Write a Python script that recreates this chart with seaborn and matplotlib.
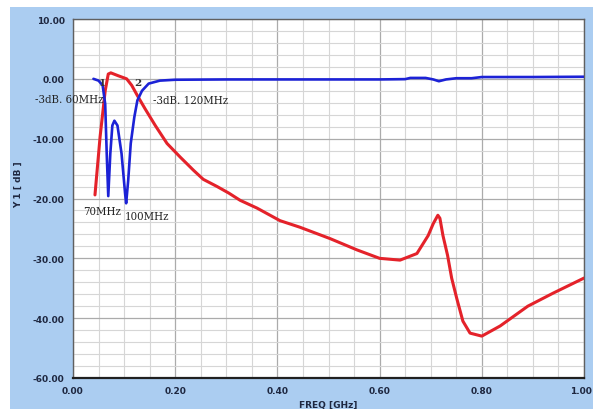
import numpy as np
import pandas as pd
import seaborn as sns
import matplotlib
matplotlib.use("Agg")
import matplotlib.pyplot as plt
from matplotlib.patches import Rectangle
from matplotlib.ticker import MultipleLocator, FixedLocator
from matplotlib.transforms import ScaledTranslation
from matplotlib import font_manager

# ---- data ----
blue_x = [0.040, 0.050, 0.058, 0.063, 0.066, 0.069, 0.073, 0.077, 0.081, 0.087, 0.095,
          0.102, 0.104, 0.108, 0.113, 0.120, 0.126, 0.135, 0.148, 0.170, 0.200, 0.300,
          0.400, 0.500, 0.600, 0.650, 0.660, 0.690, 0.705, 0.716, 0.730, 0.750, 0.780,
          0.800, 0.900, 1.000]
blue_y = [0.0, -0.3, -1.1, -4.2, -12.5, -19.6, -12.5, -7.8, -7.0, -7.8, -12.5,
          -19.2, -20.8, -17.0, -10.8, -6.4, -3.6, -2.0, -0.8, -0.3, -0.15, -0.1,
          -0.1, -0.1, -0.1, -0.05, 0.15, 0.15, -0.1, -0.4, -0.1, 0.1, 0.1,
          0.3, 0.3, 0.35]

red_x = [0.043, 0.053, 0.063, 0.069, 0.074, 0.089, 0.105, 0.115, 0.126, 0.141, 0.161,
         0.184, 0.210, 0.236, 0.255, 0.282, 0.305, 0.327, 0.360, 0.405, 0.444, 0.503,
         0.556, 0.600, 0.640, 0.673, 0.695, 0.705, 0.714, 0.718, 0.724, 0.733, 0.741,
         0.751, 0.763, 0.777, 0.800, 0.836, 0.890, 0.940, 1.000]
red_y = [-19.4, -9.7, -2.0, 0.8, 1.0, 0.5, 0.0, -1.1, -2.8, -5.0, -7.8,
         -10.8, -13.1, -15.3, -16.8, -18.0, -19.1, -20.3, -21.6, -23.7, -24.8, -26.7,
         -28.6, -30.0, -30.3, -29.2, -26.2, -24.2, -22.8, -23.3, -26.2, -29.5, -33.3,
         -36.7, -40.5, -42.5, -43.0, -41.3, -38.0, -35.8, -33.3]

x_ticks = [0.0, 0.2, 0.4, 0.6, 0.8, 1.0]
x_tick_labels = ["0.00", "0.20", "0.40", "0.60", "0.80", "1.00"]
y_ticks = [10, 0, -10, -20, -30, -40, -50]
y_tick_labels = ["10.00", "0.00", "-10.00", "-20.00", "-30.00", "-40.00", "-60.00"]

annotations = [
    ("-3dB. 60MHz", -0.074, -3.3),
    ("-3dB. 120MHz", 0.157, -3.5),
    ("70MHz", 0.020, -22.1),
    ("100MHz", 0.102, -23.0),
]
markers = [("1", 0.058, -1.3), ("2", 0.126, -1.3)]

# ---- figure ----
sns.set_style("white")
plt.rcParams['font.family'] = ['DejaVu Sans']

# condensed serif face if available
serif_family = "Liberation Serif"
serif_stretch = "normal"
for f in font_manager.fontManager.ttflist:
    if f.name == "DejaVu Serif" and f.stretch == "condensed":
        serif_family, serif_stretch = "DejaVu Serif", "condensed"
        break

W, H = 593, 410
fig = plt.figure(figsize=(W / 100, H / 100), dpi=100)
fig.patch.set_facecolor("white")
fig.add_artist(Rectangle((10 / W, 0), 1 - 10 / W, 1 - 8 / H, transform=fig.transFigure,
                         facecolor="#abcdf1", edgecolor="none", zorder=0))

ax = fig.add_axes([73 / W, 1 - 379 / H, (584 - 73) / W, (379 - 20) / H])
ax.set_facecolor("white")

df_b = pd.DataFrame({"x": blue_x, "y": blue_y})
df_r = pd.DataFrame({"x": red_x, "y": red_y})
sns.lineplot(data=df_b, x="x", y="y", ax=ax, color="#1c22d6", linewidth=1.9, sort=False, zorder=4)
sns.lineplot(data=df_r, x="x", y="y", ax=ax, color="#e4222a", linewidth=2.2, sort=False, zorder=3)

ax.set_xlim(0, 1.0)
ax.set_ylim(-50, 10)

ax.xaxis.set_major_locator(FixedLocator(x_ticks))
ax.set_xticklabels(x_tick_labels)
ax.xaxis.set_minor_locator(MultipleLocator(0.05))
ax.yaxis.set_major_locator(FixedLocator(y_ticks))
ax.set_yticklabels(y_tick_labels)
ax.yaxis.set_minor_locator(MultipleLocator(2))

ax.grid(which="major", color="#ababab", linewidth=0.9, zorder=1)
ax.grid(which="minor", color="#d6d6d6", linewidth=0.8, zorder=1)
ax.set_axisbelow(True)

ax.tick_params(axis="both", which="major", direction="out", length=4, width=0.8,
               color="#333333", labelsize=6.5, labelcolor="#1e2740", pad=2)
ax.tick_params(axis="both", which="minor", direction="out", length=2, width=0.6, color="#555555")
for lab in ax.get_xticklabels() + ax.get_yticklabels():
    lab.set_fontweight("bold")
last = ax.get_xticklabels()[-1]
last.set_transform(last.get_transform() + ScaledTranslation(-3 / 100, 0, fig.dpi_scale_trans))

for side in ["top", "right", "left"]:
    ax.spines[side].set_color("#606060")
    ax.spines[side].set_linewidth(1.0)
ax.spines["bottom"].set_color("#202020")
ax.spines["bottom"].set_linewidth(1.6)

ax.set_xlabel("FREQ [GHz]", fontsize=6.5, fontweight="bold", color="#1e2740", labelpad=3)
ax.set_ylabel("Y 1 [ dB ]", fontsize=6.5, fontweight="bold", color="#1e2740")
ax.yaxis.set_label_coords(-0.098, 0.54)

for txt, x, y in annotations:
    ax.text(x, y, txt, fontsize=8.2, family=serif_family, stretch=serif_stretch,
            color="#222222", ha="left", va="center", clip_on=False, zorder=6)
for txt, x, y in markers:
    ax.text(x, y, txt, fontsize=7.5, family=serif_family, fontweight="bold",
            color="#333333", ha="center", va="bottom", zorder=6)

fig.savefig("out.png", dpi=100)
